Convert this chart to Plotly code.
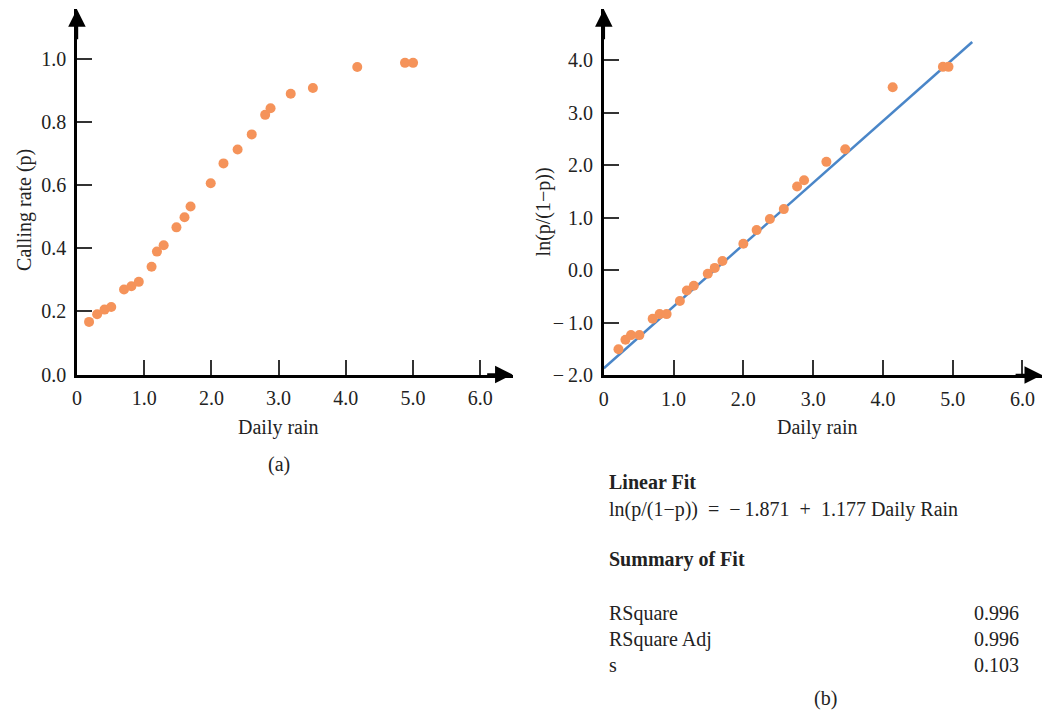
import plotly.graph_objects as go

# ---------------- data ----------------
rain_a = [0.18, 0.30, 0.41, 0.51, 0.70, 0.81, 0.92, 1.11, 1.19, 1.29, 1.48, 1.60,
          1.69, 1.99, 2.18, 2.39, 2.60, 2.80, 2.88, 3.18, 3.51, 4.17, 4.88, 5.00]
p_a = [0.167, 0.191, 0.206, 0.214, 0.270, 0.280, 0.294, 0.342, 0.390, 0.410, 0.467, 0.499,
       0.533, 0.607, 0.670, 0.714, 0.762, 0.824, 0.845, 0.891, 0.909, 0.976, 0.989, 0.989]

rain_b = [0.21, 0.31, 0.39, 0.51, 0.70, 0.80, 0.90, 1.09, 1.19, 1.29, 1.49, 1.59,
          1.70, 2.00, 2.19, 2.38, 2.58, 2.77, 2.87, 3.19, 3.46, 4.14, 4.86, 4.94]
logit_b = [-1.51, -1.33, -1.24, -1.24, -0.93, -0.84, -0.84, -0.59, -0.39, -0.30, -0.07, 0.04,
           0.17, 0.50, 0.76, 0.97, 1.16, 1.59, 1.71, 2.06, 2.30, 3.48, 3.87, 3.87]

fit_intercept = -1.871
fit_slope = 1.177
fit_x = [0.0, 5.28]
fit_y = [fit_intercept + fit_slope * v for v in fit_x]

xa_ticks = [0, 1, 2, 3, 4, 5, 6]
xa_text = ["0", "1.0", "2.0", "3.0", "4.0", "5.0", "6.0"]
ya_ticks = [0, 0.2, 0.4, 0.6, 0.8, 1.0]
ya_text = ["0.0", "0.2", "0.4", "0.6", "0.8", "1.0"]
yb_ticks = [-2, -1, 0, 1, 2, 3, 4]
yb_text = ["\u2212\u20092.0", "\u2212\u20091.0", "0.0", "1.0", "2.0", "3.0", "4.0"]

stats_labels = ["RSquare", "RSquare Adj", "s"]
stats_values = ["0.996", "0.996", "0.103"]

# ---------------- style ----------------
W, H = 1042, 715
H_EFF = 704.0   # rendered paper height observed in the viewer
FONT = "Liberation Serif, Times New Roman, serif"
TXT = "#222222"
ORANGE = "#F5935A"
BLUE = "#4A86C8"
FS = 20


def px(x):
    return x / W


def py(y):
    return 1 - y / H_EFF


XA_MAX, YA_MAX = 6.48, 1.159
XB_MAX, YB_MIN, YB_MAX = 6.28, -2.0, 4.966

fig = go.Figure()

fig.add_trace(go.Scatter(x=rain_a, y=p_a, mode="markers", xaxis="x", yaxis="y",
                         marker=dict(color=ORANGE, size=10), showlegend=False,
                         cliponaxis=False))
fig.add_trace(go.Scatter(x=fit_x, y=fit_y, mode="lines", xaxis="x2", yaxis="y2",
                         line=dict(color=BLUE, width=2.5), showlegend=False))
fig.add_trace(go.Scatter(x=rain_b, y=logit_b, mode="markers", xaxis="x2", yaxis="y2",
                         marker=dict(color=ORANGE, size=10), showlegend=False,
                         cliponaxis=False))

axis_common = dict(showgrid=False, zeroline=False, showline=True, linecolor="black",
                   linewidth=2.5, ticks="inside", ticklen=15, tickwidth=1.5,
                   tickcolor="#333333", tickfont=dict(family=FONT, size=FS, color=TXT))

fig.update_layout(
    width=W, height=H, margin=dict(l=0, r=0, t=0, b=0), autosize=False,
    paper_bgcolor="white", plot_bgcolor="white",
    font=dict(family=FONT, size=FS, color=TXT),
    xaxis=dict(domain=[px(72.3), px(510)], range=[0, XA_MAX], anchor="y",
               tickvals=xa_ticks, ticktext=xa_text, ticklabelstandoff=4, **axis_common),
    yaxis=dict(domain=[py(374.5), py(9.3)], range=[0, YA_MAX], anchor="x",
               tickvals=ya_ticks, ticktext=ya_text, ticklabelstandoff=4, **axis_common),
    xaxis2=dict(domain=[px(601.7), 1.0], range=[0, XB_MAX], anchor="y2",
                tickvals=xa_ticks, ticktext=xa_text, ticklabelstandoff=4, **axis_common),
    yaxis2=dict(domain=[py(375), py(9.3)], range=[YB_MIN, YB_MAX], anchor="x2",
                tickvals=yb_ticks, ticktext=yb_text, ticklabelstandoff=4, **axis_common),
)

# arrowheads on axes
arrow = dict(showarrow=True, arrowhead=2, arrowsize=1.4, arrowwidth=2.5,
             arrowcolor="black", text="", standoff=0, startstandoff=0)
fig.add_annotation(x=XA_MAX, y=0, ax=XA_MAX - 0.4, ay=0, xref="x", yref="y",
                   axref="x", ayref="y", **arrow)
fig.add_annotation(x=0, y=YA_MAX, ax=0, ay=YA_MAX - 0.1, xref="x", yref="y",
                   axref="x", ayref="y", **arrow)
fig.add_annotation(x=XB_MAX, y=YB_MIN, ax=XB_MAX - 0.4, ay=YB_MIN, xref="x2", yref="y2",
                   axref="x2", ayref="y2", **arrow)
fig.add_annotation(x=0, y=YB_MAX, ax=0, ay=YB_MAX - 0.6, xref="x2", yref="y2",
                   axref="x2", ayref="y2", **arrow)


def text(x, y, s, xanchor="center", yanchor="middle", angle=0, bold=False, size=FS):
    if bold:
        s = "<b>" + s + "</b>"
    fig.add_annotation(x=px(x), y=py(y), xref="paper", yref="paper", text=s,
                       showarrow=False, xanchor=xanchor, yanchor=yanchor,
                       textangle=angle, font=dict(family=FONT, size=size, color=TXT))


text(19, 210, "Calling rate (p)", angle=-90)
text(275, 427, "Daily rain")
text(275, 464, "(a)")
text(541, 212, "ln(p/(1\u2212p))", angle=-90)
text(816, 427, "Daily rain")

text(605, 482, "Linear Fit", xanchor="left", bold=True)
text(605, 509, "ln(p/(1\u2212p))\u2002=\u2002\u2212\u20091.871\u2002+\u20021.177 Daily Rain",
     xanchor="left")
text(605, 559, "Summary of Fit", xanchor="left", bold=True)
for i, (lab, val) in enumerate(zip(stats_labels, stats_values)):
    yy = 613 + i * 26
    text(605, yy, lab, xanchor="left")
    text(1021, yy, val, xanchor="right")
text(824, 698, "(b)")

fig.write_html("out.html", config={"displayModeBar": False},
               post_script="document.body.style.margin='0';"
                           "document.body.style.overflow='hidden';")
